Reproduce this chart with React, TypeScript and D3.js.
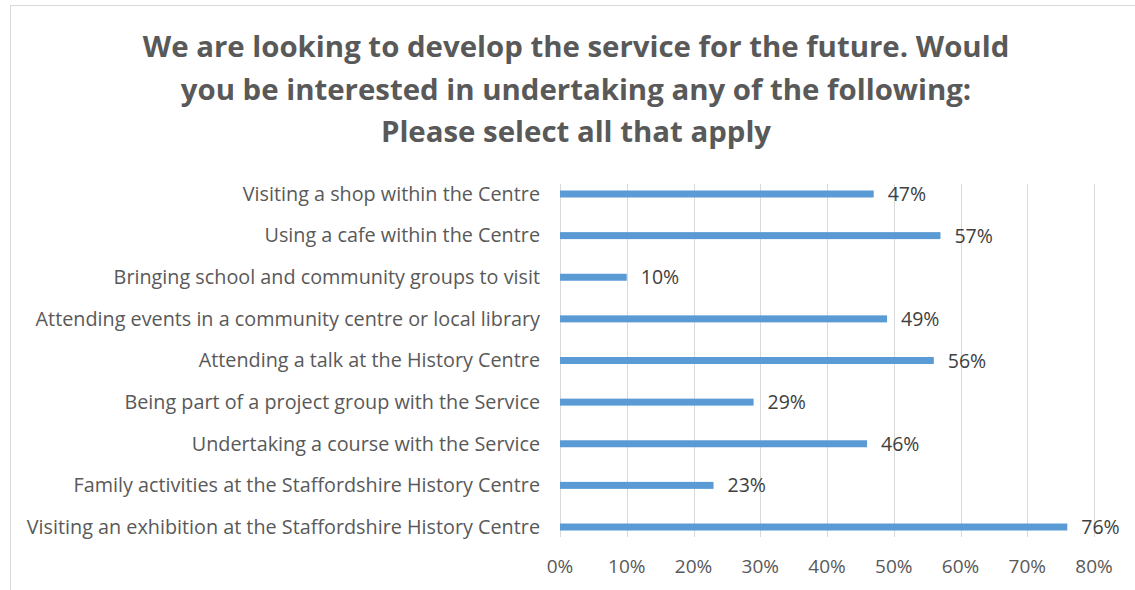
import React from "react";
import * as d3 from "d3";

const categories = [
  "Visiting a shop within the Centre",
  "Using a cafe within the Centre",
  "Bringing school and community groups to visit",
  "Attending events in a community centre or local library",
  "Attending a talk at the History Centre",
  "Being part of a project group with the Service",
  "Undertaking a course with the Service",
  "Family activities at the Staffordshire History Centre",
  "Visiting an exhibition at the Staffordshire History Centre",
];
const values = [47, 57, 10, 49, 56, 29, 46, 23, 76];
const ticks = [0, 10, 20, 30, 40, 50, 60, 70, 80];
const titleLines = [
  "We are looking to develop the service for the future. Would",
  "you be interested in undertaking any of the following:",
  "Please select all that apply",
];

const W = 1135;
const H = 590;
const FONT = "'Open Sans', Lato, sans-serif";

export default function App() {
  const x = d3.scaleLinear().domain([0, 80]).range([560, 1094]);
  const y = d3.scalePoint<string>().domain(categories).range([184, 537]).padding(0.24);
  const plotTop = 184;
  const plotBottom = 537;
  const barH = 7;

  return (
    <svg
      width={W}
      height={H}
      style={{ position: "absolute", left: 0, top: 0, background: "#fff" }}
      fontFamily={FONT}
    >
      <rect x={10.5} y={5.5} width={W + 20} height={H + 20} fill="#fff" stroke="#d9d9d9" strokeWidth={1} />
      {titleLines.map((t, i) => (
        <text
          key={i}
          x={576}
          y={57 + i * 42.5}
          textAnchor="middle"
          fontSize={29.4}
          fontWeight="bold"
          fill="#595959"
        >
          {t}
        </text>
      ))}
      {ticks.map((t) => (
        <line
          key={"g" + t}
          x1={Math.round(x(t)) + 0.5}
          x2={Math.round(x(t)) + 0.5}
          y1={plotTop}
          y2={plotBottom}
          stroke="#d9d9d9"
          strokeWidth={1}
        />
      ))}
      {ticks.map((t) => (
        <text
          key={"t" + t}
          x={x(t)}
          y={573}
          textAnchor="middle"
          fontSize={19}
          fill="#595959"
        >
          {t + "%"}
        </text>
      ))}
      {categories.map((c, i) => {
        const cy = y(c) as number;
        return (
          <g key={c}>
            <text x={540} y={cy + 6.8} textAnchor="end" fontSize={19.8} fill="#595959">
              {c}
            </text>
            <rect x={x(0)} y={cy - barH / 2} width={x(values[i]) - x(0)} height={barH} fill="#5b9bd5" />
            <text x={x(values[i]) + 14} y={cy + 7} fontSize={19.5} fill="#404040">
              {values[i] + "%"}
            </text>
          </g>
        );
      })}
    </svg>
  );
}
